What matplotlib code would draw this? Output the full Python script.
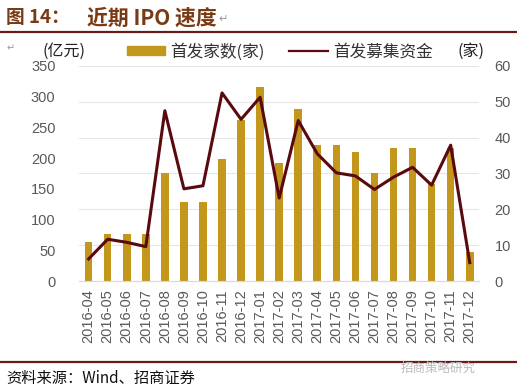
import matplotlib.pyplot as plt
from matplotlib.patches import Patch
from matplotlib.lines import Line2D

plt.rcParams['font.family'] = ['Liberation Sans', 'Noto Sans CJK SC', 'DejaVu Sans']

months = ['2016-04', '2016-05', '2016-06', '2016-07', '2016-08', '2016-09', '2016-10',
          '2016-11', '2016-12', '2017-01', '2017-02', '2017-03', '2017-04', '2017-05',
          '2017-06', '2017-07', '2017-08', '2017-09', '2017-10', '2017-11', '2017-12']
# 首发家数 (家), right axis
ipo_count = [11, 13, 13, 13, 30, 22, 22, 34, 45, 54, 33, 48, 38, 38, 36, 30, 37, 37, 27, 37, 8]
# 首发募集资金 (亿元), left axis
ipo_funds = [36, 68, 63, 56, 277, 150, 155, 306, 263, 299, 135, 261, 207, 176, 171, 149, 169, 185, 156, 221, 30]

BAR_COLOR = '#C3961C'
LINE_COLOR = '#5A0A0E'
TICK_COLOR = '#595959'
DARK_RED = '#6B1A1A'

fig = plt.figure(figsize=(5.17, 3.92), dpi=100)
ax = fig.add_axes([0.153, 0.283, 0.774, 0.549])
ax2 = ax.twinx()

x = range(len(months))
ax2.bar(x, ipo_count, width=0.4, color=BAR_COLOR)
ax.plot(x, ipo_funds, color=LINE_COLOR, linewidth=2.2)

# line above bars
ax.set_zorder(ax2.get_zorder() + 1)
ax.patch.set_visible(False)

ax.set_ylim(0, 350)
ax.set_yticks(range(0, 351, 50))
ax2.set_ylim(0, 60)
ax2.set_yticks(range(0, 61, 10))
ax.set_xlim(-0.5, len(months) - 0.5)
ax.set_xticks(list(x))
ax.set_xticklabels(months, rotation=90)

ax2.yaxis.grid(True, color='#E6E6E6', linewidth=0.8)
ax2.set_axisbelow(True)
for a in (ax, ax2):
    for s in ('top', 'left', 'right'):
        a.spines[s].set_visible(False)
    a.spines['bottom'].set_color('#D9D9D9')
    a.tick_params(length=0, colors=TICK_COLOR, labelsize=10.5)
ax.tick_params(axis='y', pad=17)
ax2.tick_params(axis='y', pad=11)
ax.tick_params(axis='x', pad=6)

# title
fig.text(0.012, 0.955, '图 14：', fontsize=13.5, fontweight='bold', color='#7A3A14',
         family=['Noto Sans CJK SC'], va='center')
fig.text(0.168, 0.955, '近期 IPO 速度', fontsize=15, fontweight='bold', color='#7A3A14',
         family=['Noto Sans CJK SC'], va='center')
fig.text(0.422, 0.950, '↵', fontsize=8, color='#999999', va='center')
fig.add_artist(Line2D([0.0, 1.0], [0.918, 0.918], color=DARK_RED, linewidth=1.6))
fig.text(0.012, 0.878, '↵', fontsize=7, color='#999999', va='center')

fig.text(0.083, 0.868, '(亿元)', fontsize=11.5, color='#222222', va='center',
         family=['Noto Sans CJK SC'])
fig.text(0.885, 0.868, '(家)', fontsize=11.5, color='#222222', va='center',
         family=['Noto Sans CJK SC'])

handles = [Patch(color=BAR_COLOR), Line2D([], [], color=LINE_COLOR, linewidth=1.6)]
leg = fig.legend(handles, ['首发家数(家)', '首发募集资金'], loc='center left', ncol=2,
                 bbox_to_anchor=(0.245, 0.868), frameon=False,
                 handlelength=2.3, handleheight=0.45, handletextpad=0.3,
                 columnspacing=1.5, borderpad=0, borderaxespad=0,
                 prop={'family': ['Noto Sans CJK SC'], 'size': 12})
for t in leg.get_texts():
    t.set_color('#333333')

# footer
fig.add_artist(Line2D([0.0, 1.0], [0.076, 0.076], color=DARK_RED, linewidth=1.6))
fig.text(0.012, 0.035, '资料来源：Wind、招商证券', fontsize=11, color='#111111',
         family=['Noto Sans CJK SC'], va='center')
fig.text(0.775, 0.06, '招商策略研究', fontsize=9, color='#BBBBBB',
         family=['Noto Sans CJK SC'], va='center')

fig.savefig('out.png', dpi=100)
